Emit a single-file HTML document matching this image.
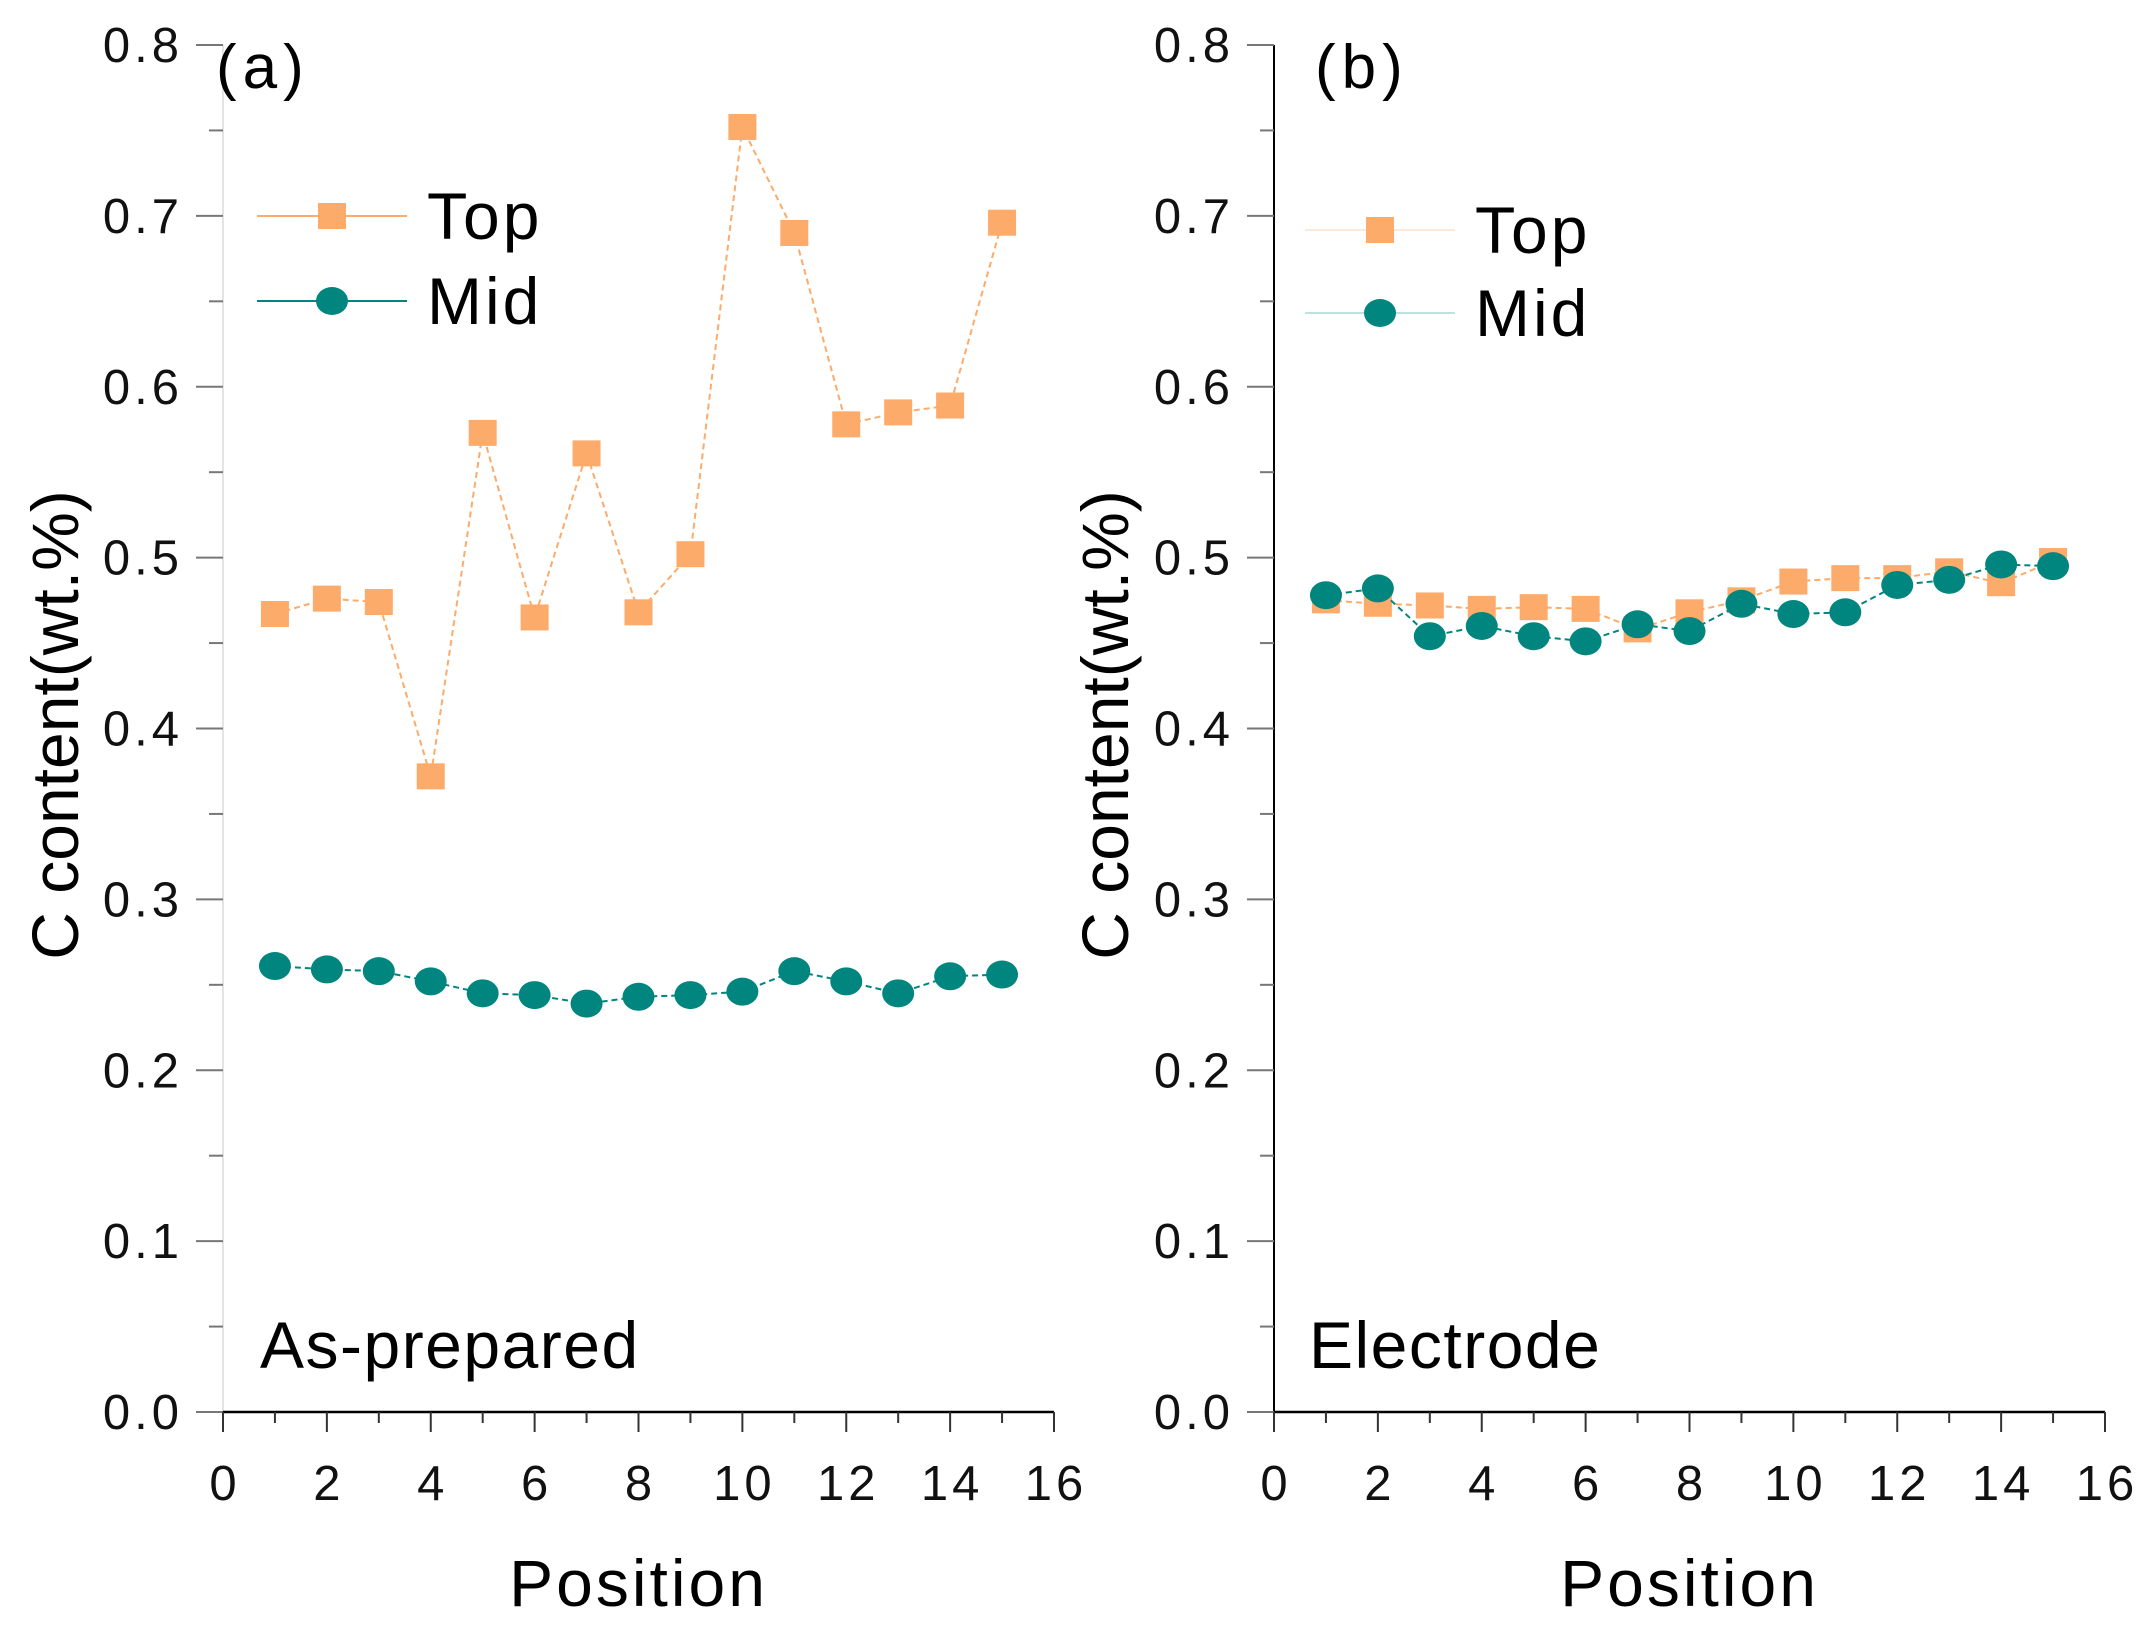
<!DOCTYPE html>
<html><head><meta charset="utf-8"><style>
html,body{margin:0;padding:0;background:#fff;}
svg{display:block;font-family:"Liberation Sans",Arial,sans-serif;}
</style></head><body>
<svg id="chart" width="2143" height="1641" viewBox="0 0 2143 1641" xmlns="http://www.w3.org/2000/svg"></svg>
<script>
const positions=[1,2,3,4,5,6,7,8,9,10,11,12,13,14,15];
const topA=[0.467,0.476,0.474,0.372,0.573,0.465,0.561,0.468,0.502,0.752,0.690,0.578,0.585,0.589,0.696];
const midA=[0.261,0.259,0.258,0.252,0.245,0.244,0.239,0.243,0.244,0.246,0.258,0.252,0.245,0.255,0.256];
const topB=[0.475,0.473,0.472,0.470,0.471,0.470,0.458,0.468,0.475,0.486,0.488,0.488,0.492,0.485,0.498];
const midB=[0.478,0.482,0.454,0.460,0.454,0.451,0.461,0.457,0.473,0.467,0.468,0.484,0.487,0.496,0.495];
const xTicks=[0,2,4,6,8,10,12,14,16];
const yTicks=[0.0,0.1,0.2,0.3,0.4,0.5,0.6,0.7,0.8];
const ORANGE="#fdab6a", TEAL="#00867e";
const svg=document.getElementById('chart');
const NS="http://www.w3.org/2000/svg";
function mk(tag,at,parent){const e=document.createElementNS(NS,tag);for(const k in at)e.setAttribute(k,at[k]);(parent||svg).appendChild(e);return e;}
function panel(cfg){
  const g=mk('g',{});
  
  
  const X0=cfg.x0,X1=cfg.x1,Y0=1412,Y1=45;
  const sx=v=>X0+(v-0)/16*(X1-X0);
  const sy=v=>Y0-(v/0.8)*(Y0-Y1);
  const ya=mk('line',{x1:X0,y1:Y0,x2:X0,y2:Y1,stroke:cfg.yAxisColor,'stroke-width':2},g);
  
  for(let i=0;i<=16;i++){const v=i*0.05;const len=i%2==0?27:14;
    const t=mk('line',{x1:X0-len,y1:sy(v),x2:X0,y2:sy(v),stroke:'#777','stroke-width':2},g);
    }
  yTicks.forEach(v=>{const t=mk('text',{x:X0-40,y:sy(v)+17,'font-size':49,'letter-spacing':4,'text-anchor':'end',fill:'#111'},g);t.textContent=v.toFixed(1);
    });
  const xa=mk('line',{x1:X0,y1:Y0,x2:X1,y2:Y0,stroke:'#000','stroke-width':2.5},g);
  
  for(let i=0;i<=16;i++){const len=i%2==0?20:11;
    const t=mk('line',{x1:sx(i),y1:Y0,x2:sx(i),y2:Y0+len,stroke:'#333','stroke-width':2},g);
    }
  xTicks.forEach(v=>{const t=mk('text',{x:sx(v)+2,y:1500,'font-size':49,'letter-spacing':4,'text-anchor':'middle',fill:'#111'},g);t.textContent=v;
    });
  const xt=mk('text',{x:(X0+X1)/2,y:1606,'font-size':66,'letter-spacing':3,'text-anchor':'middle',fill:'#000'},g);xt.textContent='Position';
  
  const yt=mk('text',{x:0,y:0,'font-size':66,'text-anchor':'middle',fill:'#000',transform:`translate(${cfg.ytx},725) rotate(-90)`},g);yt.textContent='C content(wt.%)';
  
  const pl=mk('text',{x:cfg.labX,y:88,'font-size':62,'letter-spacing':6,fill:'#000'},g);pl.textContent=cfg.label;
  
  const nt=mk('text',{x:cfg.noteX,y:1368,'font-size':66,'letter-spacing':1.5,fill:'#000'},g);nt.textContent=cfg.note;
  
  function series(vals,color,shape,nm){
    const pts=positions.map((p,i)=>sx(p)+','+sy(vals[i])).join(' ');
    const ln=mk('polyline',{points:pts,fill:'none',stroke:color,'stroke-width':2,'stroke-dasharray':'6,4'},g);
    
    positions.forEach((p,i)=>{let m;
      if(shape==='sq'){m=mk('rect',{x:sx(p)-14,y:sy(vals[i])-13,width:28,height:26,fill:color},g);}
      else{m=mk('ellipse',{cx:sx(p),cy:sy(vals[i]),rx:16,ry:14,fill:color},g);}
      });
  }
  series(cfg.top,ORANGE,'sq','top-series');
  series(cfg.mid,TEAL,'ci','mid-series');
  const lg=mk('g',{},g);
  [[cfg.legY[0],ORANGE,'sq','Top'],[cfg.legY[1],TEAL,'ci','Mid']].forEach(([y,c,s,txt])=>{
    const e=mk('g',{},lg);
    mk('line',{x1:cfg.legX,y1:y,x2:cfg.legX+150,y2:y,stroke:c,'stroke-width':2,opacity:cfg.legOp},e);
    const cx=cfg.legX+75;
    if(s==='sq')mk('rect',{x:cx-14,y:y-13,width:28,height:26,fill:c},e);else mk('ellipse',{cx:cx,cy:y,rx:16,ry:14,fill:c},e);
    const t=mk('text',{x:cfg.legX+170,y:y+23,'font-size':66,'letter-spacing':3,fill:'#000'},e);t.textContent=txt;});
}
panel({name:'panel-a',x0:223,x1:1054,yAxisColor:'#e4e4e4',ytx:78,labX:216,label:'(a)',noteX:260,note:'As-prepared',top:topA,mid:midA,legX:257,legY:[216,301],legOp:1});
panel({name:'panel-b',x0:1274,x1:2105,yAxisColor:'#000',ytx:1128,labX:1315,label:'(b)',noteX:1309,note:'Electrode',top:topB,mid:midB,legX:1305,legY:[230,313],legOp:0.25});
</script>
</body></html>
